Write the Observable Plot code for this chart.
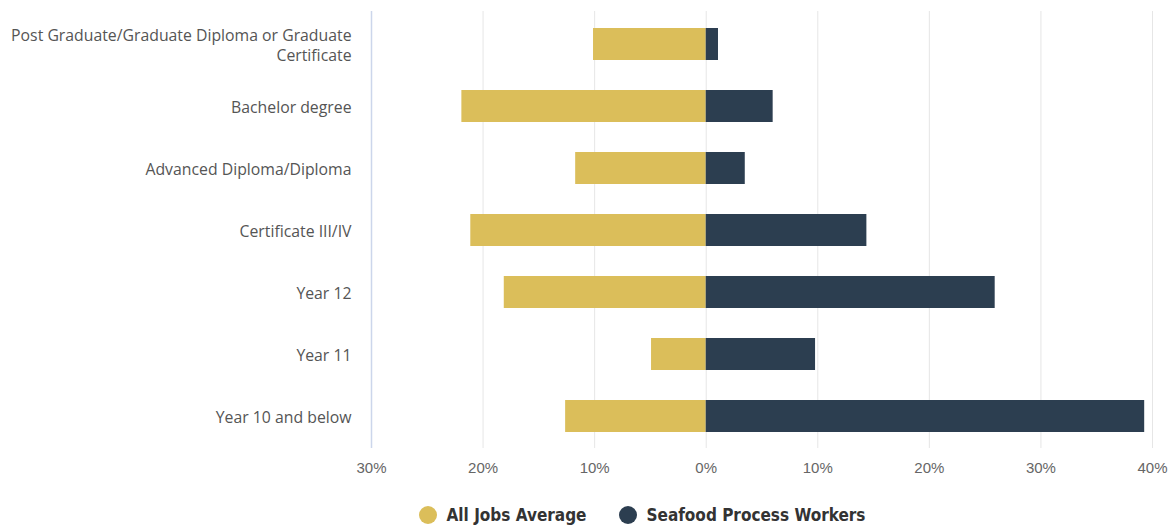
<!DOCTYPE html>
<html><head><meta charset="utf-8">
<script src="https://cdn.jsdelivr.net/npm/d3@7"></script>
<script src="https://cdn.jsdelivr.net/npm/@observablehq/plot@0.6"></script>
<style>
body{margin:0;background:#fff;overflow:hidden;}
#legend{display:flex;justify-content:center;align-items:center;height:30px;margin-top:10px;font-family:"Liberation Sans Narrow","DejaVu Sans Condensed",sans-serif;font-weight:bold;font-size:17px;color:#333;padding-left:110px;}
.item{display:flex;align-items:center;margin:0 16px;}
.dot{width:18px;height:18px;border-radius:50%;margin-right:10px;}
</style></head><body><div id="chart"></div><div id="legend"></div><script>
const categories = ["Post Graduate/Graduate Diploma or Graduate Certificate","Bachelor degree","Advanced Diploma/Diploma","Certificate III/IV","Year 12","Year 11","Year 10 and below"];
const allJobs = [10.1, 21.9, 11.7, 21.1, 18.1, 4.9, 12.6];
const seafood = [1.1, 6.0, 3.5, 14.4, 25.9, 9.8, 39.3];
const seriesNames = ["All Jobs Average","Seafood Process Workers"];
const seriesColors = ["#DBBE5A","#2C3E50"];
const xTicks = [-30,-20,-10,0,10,20,30,40];

const rows = [];
categories.forEach((c,i)=>{
  rows.push({category:c, series:seriesNames[0], value:-allJobs[i]});
  rows.push({category:c, series:seriesNames[1], value:seafood[i]});
});

const chart = Plot.plot({
  width:1174, height:490,
  marginLeft:371, marginRight:22, marginTop:11, marginBottom:42,
  x:{domain:[-30,40]},
  y:{domain:categories, paddingInner:0.49, paddingOuter:0.245},
  color:{domain:seriesNames, range:seriesColors},
  style:{fontFamily:"'Open Sans', sans-serif", fontSize:"15.8px", color:"#555", background:"#fff"},
  marks:[
    Plot.gridX(xTicks.slice(1), {stroke:"#e6e6e6", strokeOpacity:1}),
    Plot.ruleX([-30], {stroke:"#ccd6eb", strokeWidth:1.5}),
    Plot.barX(rows, {y:"category", x1:0, x2:"value", fill:"series"}),
    Plot.axisX({ticks:xTicks, tickSize:0, tickPadding:14, tickFormat:d=>Math.abs(d)+"%", fontFamily:"'Liberation Sans Narrow', sans-serif", fontSize:15, fill:"#666", label:null}),
    Plot.axisY({tickSize:0, tickPadding:20, fill:"#555", label:null, fontSize:15.8, lineHeight:1.25,
      tickFormat:d=>d.replace("Graduate Certificate","Graduate\nCertificate")})
  ]
});
document.getElementById("chart").appendChild(chart);

const legend = document.getElementById("legend");
seriesNames.forEach((n,i)=>{
  const it = document.createElement("div"); it.className="item";
  const dot = document.createElement("div"); dot.className="dot"; dot.style.background=seriesColors[i];
  const t = document.createElement("span"); t.textContent=n;
  it.appendChild(dot); it.appendChild(t); legend.appendChild(it);
});
</script></body></html>
